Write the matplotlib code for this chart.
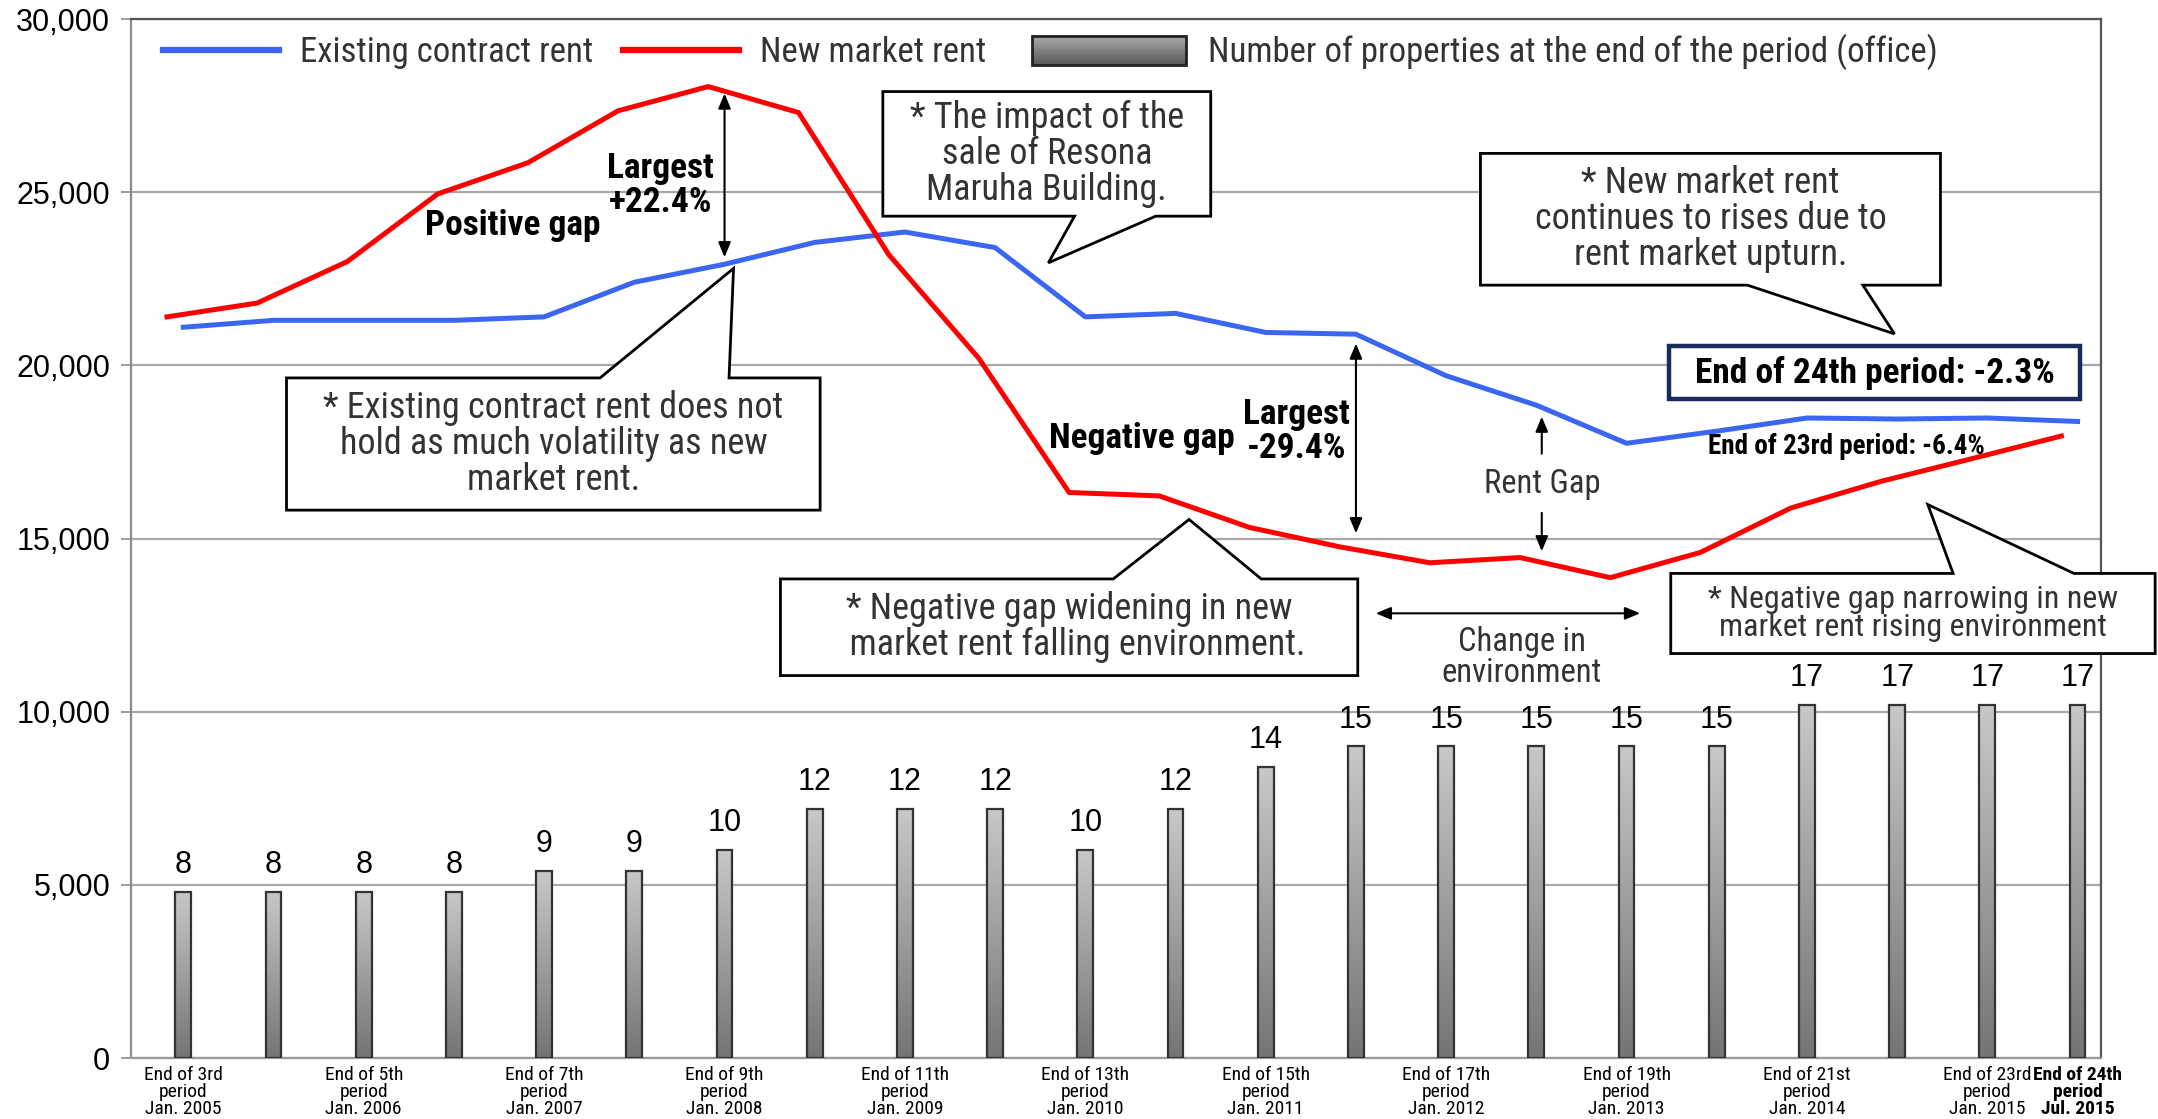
import numpy as np
import matplotlib
matplotlib.use("Agg")
import matplotlib.pyplot as plt
from matplotlib.colors import LinearSegmentedColormap
from matplotlib.patches import Polygon, Rectangle
from matplotlib.lines import Line2D
from matplotlib.legend_handler import HandlerBase

NARROW = ["Roboto Condensed", "Liberation Sans", "DejaVu Sans"]
REGULAR = ["Liberation Sans", "DejaVu Sans"]
plt.rcParams["font.family"] = NARROW

# rent (yen/tsubo) and office property count at each period end
period_labels = [
    "End of 3rd\nperiod\nJan. 2005", "", "End of 5th\nperiod\nJan. 2006", "",
    "End of 7th\nperiod\nJan. 2007", "", "End of 9th\nperiod\nJan. 2008", "",
    "End of 11th\nperiod\nJan. 2009", "", "End of 13th\nperiod\nJan. 2010", "",
    "End of 15th\nperiod\nJan. 2011", "", "End of 17th\nperiod\nJan. 2012", "",
    "End of 19th\nperiod\nJan. 2013", "", "End of 21st\nperiod\nJan. 2014", "",
    "End of 23rd\nperiod\nJan. 2015", "End of 24th\nperiod\nJul. 2015",
]
existing_rent = [21100, 21300, 21300, 21300, 21400, 22400, 22920, 23550, 23850, 23400, 21400,
                 21500, 20950, 20900, 19700, 18850, 17750, 18100, 18480, 18450, 18480, 18380]
new_rent = [21400, 21800, 23000, 24950, 25850, 27350, 28050, 27300, 23200, 20200, 16330,
            16230, 15320, 14760, 14300, 14450, 13870, 14600, 15880, 16650, 17300, 17960]
properties = [8, 8, 8, 8, 9, 9, 10, 12, 12, 12, 10, 12, 14, 15, 15, 15, 15, 15, 17, 17, 17, 17]

BLUE = "#3a66f2"
RED = "#ff0000"
TXT = "#333333"
RED_SHIFT = 0.18  # new-rent series sits slightly left of the category centre

x = np.arange(len(period_labels))

fig = plt.figure(figsize=(21.58, 11.19), dpi=100)
ax = fig.add_axes([0.0607, 0.0545, 0.9129, 0.9285])
ax2 = ax.twinx()

# property counts as thin gradient bars on a hidden secondary axis
bar_cmap = LinearSegmentedColormap.from_list("bargrey", ["#747474", "#c8c8c8"])
grad = np.linspace(1, 0, 256)[:, None]
bars = ax2.bar(x, properties, width=0.175, facecolor="none", edgecolor="#333333",
               linewidth=1.6, zorder=3)
for b in bars:
    im = ax2.imshow(grad, cmap=bar_cmap, vmin=0, vmax=1, aspect="auto", zorder=2,
                    extent=[b.get_x(), b.get_x() + b.get_width(), 0, b.get_height()])
    im.set_clip_path(b)
for xi, n in zip(x, properties):
    ax2.annotate(str(n), (xi, n), xytext=(0, 13.5), textcoords="offset points",
                 ha="center", va="baseline", fontsize=22, family=REGULAR, color="black")
ax2.set_ylim(0, 50)
ax2.set_yticks([])
for s in ax2.spines.values():
    s.set_visible(False)

ax.plot(x, existing_rent, color=BLUE, lw=3.6, zorder=4, solid_joinstyle="round")
ax.plot(x - RED_SHIFT, new_rent, color=RED, lw=3.6, zorder=4, solid_joinstyle="round")

ax.set_xlim(-0.58, 21.26)
ax2.set_xlim(-0.58, 21.26)
ax.set_ylim(0, 30000)
ax.set_yticks(range(0, 30001, 5000))
ax.set_yticklabels([f"{v:,}" for v in range(0, 30001, 5000)], family=REGULAR)
ax.set_xticks(x)
ax.set_xticklabels(period_labels, fontsize=14, linespacing=0.93, color="black")
ax.get_xticklabels()[-1].set_fontweight("bold")
ax.tick_params(axis="y", length=7, width=1.2, color="#8c8c8c", labelsize=22, pad=8)
ax.tick_params(axis="x", length=0, pad=6)
ax.yaxis.grid(True, color="#a8a8a8", lw=1.6)
ax.set_axisbelow(True)
ax.spines["left"].set_color("#8c8c8c")
ax.spines["bottom"].set_color("#9a9a9a")
ax.spines["top"].set_color("#555555")
ax.spines["right"].set_color("#555555")
for s in ax.spines.values():
    s.set_linewidth(1.6)


class GradientBoxHandler(HandlerBase):
    def create_artists(self, legend, orig_handle, xdescent, ydescent, width, height,
                       fontsize, trans):
        n = 16
        arts = []
        for i, shade in enumerate(np.linspace(0.66, 0.36, n)):
            y0 = -ydescent + height * (n - 1 - i) / n
            arts.append(Rectangle((-xdescent, y0), width, height / n + 0.3,
                                  fc=str(shade), ec="none", transform=trans))
        arts.append(Rectangle((-xdescent, -ydescent), width, height, fc="none",
                              ec="#222222", lw=2, transform=trans))
        return arts


leg1 = ax.legend([Line2D([], [], color=BLUE, lw=4.5), Line2D([], [], color=RED, lw=4.5)],
                 ["Existing contract rent", "New market rent"], ncol=2, loc="center left",
                 bbox_to_anchor=(0.016, 0.968), frameon=False, fontsize=25, handlelength=3.35,
                 handletextpad=0.6, columnspacing=0.87, borderpad=0, borderaxespad=0,
                 labelcolor=TXT)
ax.add_artist(leg1)
ax.legend([Rectangle((0, 0), 1, 1)], ["Number of properties at the end of the period (office)"],
          handler_map={Rectangle: GradientBoxHandler()}, loc="center left",
          bbox_to_anchor=(0.4574, 0.968), frameon=False, fontsize=25, handlelength=4.44,
          handleheight=0.91, handletextpad=0.63, borderpad=0, borderaxespad=0, labelcolor=TXT)


def callout(x0, x1, y0, y1, side, b1, b2, tip, text, size=26, ls=1.0):
    if side == "top":
        verts = [(x0, y0), (x1, y0), (x1, y1), (b2, y1), tip, (b1, y1), (x0, y1)]
    else:
        verts = [(x0, y0), (b1, y0), tip, (b2, y0), (x1, y0), (x1, y1), (x0, y1)]
    ax.add_patch(Polygon(verts, closed=True, fc="white", ec="black", lw=2, zorder=6,
                         clip_on=False))
    ax.text((x0 + x1) / 2, (y0 + y1) / 2, text, ha="center", va="center", fontsize=size,
            color=TXT, linespacing=ls, zorder=7)


callout(1.144, 7.06, 15820, 19637, "top", 4.62, 6.05, (6.1, 22800),
        "* Existing contract rent does not\nhold as much volatility as new\nmarket rent.")
callout(7.755, 11.39, 24307, 27905, "bottom", 9.88, 10.78, (9.59, 22960),
        "* The impact of the\nsale of Resona\nMaruha Building.")
callout(14.38, 19.48, 22316, 26120, "bottom", 17.34, 18.62, (18.97, 20909),
        "* New market rent\ncontinues to rises due to\nrent market upturn.")
callout(6.62, 13.02, 11043, 13833, "top", 10.31, 11.95, (11.15, 15550),
        "* Negative gap widening in new\n  market rent falling environment.")
callout(16.49, 21.86, 11679, 13992, "top", 19.62, 20.96, (19.34, 15980),
        "* Negative gap narrowing in new\nmarket rent rising environment", size=23, ls=0.98)

# latest gap box
ax.add_patch(Rectangle((16.47, 19017), 4.56, 1538, fc="white", ec="#1b2a5c", lw=3.2,
                       zorder=6))
ax.text(18.75, 19786, "End of 24th period: -2.3%", ha="center", va="center", fontsize=25.5,
        fontweight="bold", color="black", zorder=7)
ax.text(18.44, 17650, "End of 23rd period: -6.4%", ha="center", va="center", fontsize=19.5,
        fontweight="bold", color="black", zorder=7)

bold = dict(ha="center", va="center", fontsize=25.5, fontweight="bold", color="black",
            linespacing=1.05, zorder=5)
ax.text(5.29, 25200, "Largest\n+22.4%", **bold)
ax.text(3.65, 24050, "Positive gap", **bold)
ax.text(10.63, 17890, "Negative gap", **bold)
ax.text(12.34, 18086, "Largest\n-29.4%", **bold)

arrow = dict(arrowstyle="<|-|>,head_length=0.6,head_width=0.25", color="black", lw=1.5,
             mutation_scale=15, shrinkA=0, shrinkB=0)
single = dict(arrow, arrowstyle="-|>,head_length=0.6,head_width=0.25")
ax.annotate("", xy=(6, existing_rent[6] + 200), xytext=(6, new_rent[6] - 200),
            arrowprops=arrow, zorder=5)
ax.annotate("", xy=(13, new_rent[13] + 390), xytext=(13, existing_rent[13] - 270),
            arrowprops=arrow, zorder=5)
ax.annotate("", xy=(15.06, existing_rent[15] - 330), xytext=(15.06, 17450),
            arrowprops=single, zorder=5)
ax.annotate("", xy=(15.06, new_rent[15] + 180), xytext=(15.06, 15740),
            arrowprops=single, zorder=5)
ax.text(15.07, 16575, "Rent Gap", ha="center", va="center", fontsize=23.5, color=TXT)
ax.annotate("", xy=(16.15, 12840), xytext=(13.22, 12840), arrowprops=arrow, zorder=5)
ax.text(14.84, 11570, "Change in\nenvironment", ha="center", va="center", fontsize=23.5,
        color=TXT, linespacing=0.98)

fig.savefig("out.png", dpi=100)
